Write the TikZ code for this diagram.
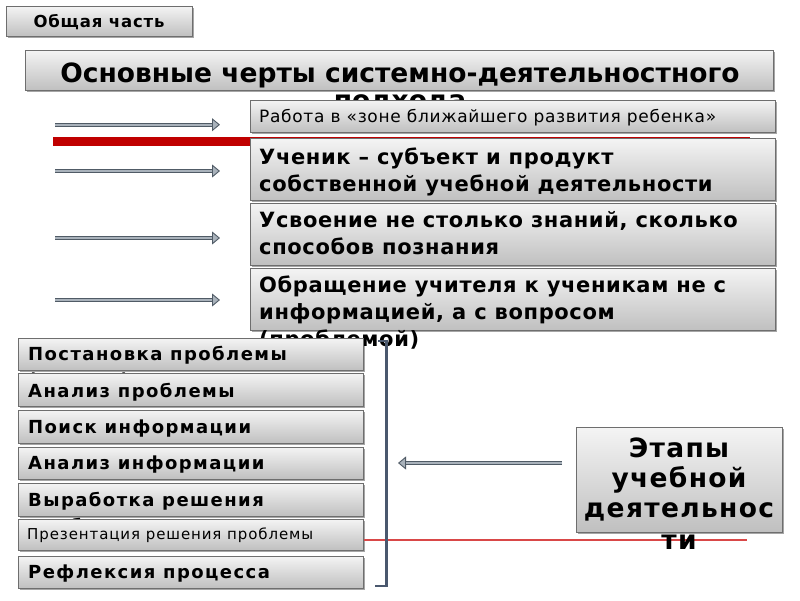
\documentclass[tikz,border=0pt]{standalone}
\usepackage{fontspec}
\setmainfont{DejaVu Sans}
\newfontfamily\lsthree[LetterSpace=3]{DejaVu Sans}
\newfontfamily\lsfour[LetterSpace=4]{DejaVu Sans}
\newfontfamily\lsfive[LetterSpace=5]{DejaVu Sans}
\newfontfamily\lssix[LetterSpace=6]{DejaVu Sans}
\newfontfamily\lseight[LetterSpace=8]{DejaVu Sans}
\usetikzlibrary{arrows.meta,shadows}
\definecolor{boxline}{HTML}{6E6E6E}
\definecolor{boxtop}{HTML}{F4F4F4}
\definecolor{boxbot}{HTML}{C0C0C0}
\definecolor{arrdark}{HTML}{505B66}
\definecolor{arrlight}{HTML}{A9B2BB}
\definecolor{brk}{HTML}{4A586E}
\definecolor{redthick}{HTML}{C00000}
\definecolor{redthin}{HTML}{D94848}
\begin{document}
\begin{tikzpicture}[x=1pt,y=-1pt,
  box/.style={draw=boxline, line width=0.8pt, top color=boxtop, bottom color=boxbot,
    anchor=north west, inner sep=0pt, outer sep=0pt,
    drop shadow={shadow xshift=1.5pt, shadow yshift=-1.5pt, opacity=0.35, fill=black}},
  bt/.style={anchor=base west, inner sep=0pt, font=\fontsize{21}{24}\lsthree\bfseries},
  lt/.style={anchor=base west, inner sep=0pt, font=\fontsize{18}{20}\lseight\bfseries},
  rt/.style={anchor=base west, inner sep=0pt, font=\fontsize{17}{20}\lsfour},
  et/.style={anchor=base, inner sep=0pt, font=\fontsize{26.5}{30}\lsfive\bfseries},
  harrow/.style={line width=4pt, draw=arrdark,
    -{Triangle[length=8pt, width=13pt, line width=0.9pt, fill=arrlight]},
    postaction={draw=arrlight, line width=1.8pt, shorten >=8pt, -}}
]
\useasboundingbox (0,0) rectangle (800,600);
\fill[white] (0,0) rectangle (800,600);

% top label
\node[box, minimum width=186pt, minimum height=30pt] (gen) at (6,6) {};
\node[anchor=base, inner sep=0pt, font=\fontsize{16.5}{18}\lsfive\bfseries] (gent) at (99,27) {Общая часть};

% title
\node[box, minimum width=748pt, minimum height=40pt] (ttl) at (25,50) {};
\node[anchor=base, inner sep=0pt, font=\fontsize{26.5}{30}\bfseries] (ttl1) at (400,82) {Основные черты системно-деятельностного};
\node[anchor=base, inner sep=0pt, font=\fontsize{26.5}{30}\bfseries] (ttl2) at (400,109) {подхода};

% box 1
\node[box, minimum width=525pt, minimum height=32pt] (b1) at (250,100) {};
\node[rt] (b1t) at (259,122) {Работа в «зоне ближайшего развития ребенка»};

% red line
\coordinate (r1s) at (53,141.5);
\coordinate (r1e) at (750,141.5);
\draw[redthick, line width=9pt] (r1s) -- (r1e);

% box 2
\node[box, minimum width=525pt, minimum height=62pt] (b2) at (250,138.5) {};
\node[bt] (b2a) at (259,164.5) {Ученик – субъект и продукт};
\node[bt] (b2b) at (259,191) {собственной учебной деятельности};

% box 3
\node[box, minimum width=525pt, minimum height=62pt] (b3) at (250,203) {};
\node[bt] (b3a) at (259,227.5) {Усвоение не столько знаний, сколько};
\node[bt] (b3b) at (259,254) {способов познания};

% box 4
\node[box, minimum width=525pt, minimum height=62pt] (b4) at (250,268) {};
\node[bt] (b4a) at (259,292) {Обращение учителя к ученикам не с};
\node[bt] (b4b) at (259,319) {информацией, а с вопросом};
\node[bt] (b4c) at (259,346) {(проблемой)};

% left arrows
\coordinate (a1s) at (55,124.7); \coordinate (a1e) at (220,124.7);
\coordinate (a2s) at (55,171); \coordinate (a2e) at (220,171);
\coordinate (a3s) at (55,238); \coordinate (a3e) at (220,238);
\coordinate (a4s) at (55,300); \coordinate (a4e) at (220,300);
\draw[harrow] (a1s) -- (a1e);
\draw[harrow] (a2s) -- (a2e);
\draw[harrow] (a3s) -- (a3e);
\draw[harrow] (a4s) -- (a4e);

% stages list
\node[box, minimum width=345pt, minimum height=32pt] (s1) at (18,338) {};
\node[lt] (s1a) at (28,360) {Постановка проблемы};
\node[lt] (s1b) at (28,386) {(задачи)};
\node[box, minimum width=345pt, minimum height=33pt] (s2) at (18,373) {};
\node[lt] (s2t) at (28,397) {Анализ проблемы};
\node[box, minimum width=345pt, minimum height=33pt] (s3) at (18,410) {};
\node[lt] (s3t) at (28,433) {Поиск информации};
\node[box, minimum width=345pt, minimum height=32pt] (s4) at (18,447) {};
\node[lt] (s4t) at (28,469) {Анализ информации};
\node[box, minimum width=345pt, minimum height=33pt] (s5) at (18,483) {};
\node[lt] (s5a) at (28,506) {Выработка решения};
\node[lt] (s5b) at (28,532) {проблемы};
\node[box, minimum width=345pt, minimum height=31pt] (s6) at (18,519) {};
\node[anchor=base west, inner sep=0pt, font=\fontsize{15}{17}\lssix] (s6t) at (27,539.5) {Презентация решения проблемы};
\node[box, minimum width=345pt, minimum height=32pt] (s7) at (18,556) {};
\node[lt] (s7t) at (28,578) {Рефлексия процесса};

% thin red line
\coordinate (r2s) at (364,539.5);
\coordinate (r2e) at (747,539.5);
\draw[draw=redthin, line width=2pt] (r2s) -- (r2e);

% bracket
\coordinate (k1) at (378,341);
\coordinate (k2) at (386.3,341);
\coordinate (k3) at (386.3,586);
\coordinate (k4) at (375,586);
\draw[brk, line width=2.5pt] (k1) -- (k2) -- (k3) -- (k4);

% stages box
\node[box, minimum width=206pt, minimum height=105pt] (et) at (576,427) {};
\node[et] (et1) at (679,457) {Этапы};
\node[et] (et2) at (679,487) {учебной};
\node[et] (et3) at (679,517) {деятельнос};
\node[et] (et4) at (679,549) {ти};

\coordinate (es) at (562,463);
\coordinate (ee) at (398,463);
\draw[harrow] (es) -- (ee);
\end{tikzpicture}
\end{document}
